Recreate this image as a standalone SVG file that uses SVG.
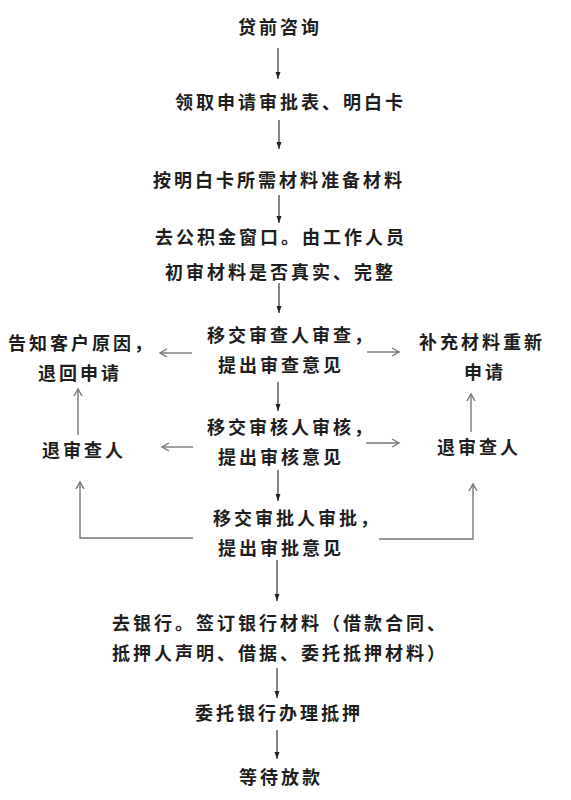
<svg xmlns="http://www.w3.org/2000/svg" width="571" height="800" viewBox="0 0 571 800">
<defs>
<style>
text{font-family:"Noto Sans CJK SC","Noto Sans CJK JP",sans-serif;font-size:18px;font-weight:bold;letter-spacing:3px;fill:#1e1e1e}
.main{fill:none;stroke:#222;stroke-width:1.1}
.side{fill:none;stroke:#777;stroke-width:1.4}
</style>
<marker id="fh" markerUnits="userSpaceOnUse" markerWidth="8" markerHeight="8" refX="7" refY="4" orient="auto">
<path d="M0,1.5 L7,4 L0,6.5 Z" fill="#222"/>
</marker>
<marker id="oh" markerUnits="userSpaceOnUse" markerWidth="12" markerHeight="12" refX="9" refY="6" orient="auto">
<path d="M2,2 L9,6 L2,10" fill="none" stroke="#777" stroke-width="1.4"/>
</marker>
</defs>
<rect width="571" height="800" fill="#fff"/>
<g id="connectors">
<line class="main" x1="278" y1="48" x2="278" y2="79" marker-end="url(#fh)"/>
<line class="main" x1="279" y1="120" x2="279" y2="149" marker-end="url(#fh)"/>
<line class="main" x1="279" y1="195" x2="279" y2="223" marker-end="url(#fh)"/>
<line class="main" x1="279" y1="283" x2="279" y2="313" marker-end="url(#fh)"/>
<line class="main" x1="278" y1="382" x2="278" y2="411" marker-end="url(#fh)"/>
<line class="main" x1="278" y1="470" x2="278" y2="501" marker-end="url(#fh)"/>
<line class="main" x1="277" y1="560" x2="277" y2="601" marker-end="url(#fh)"/>
<line class="main" x1="277" y1="668" x2="277" y2="698" marker-end="url(#fh)"/>
<line class="main" x1="277" y1="730" x2="277" y2="759" marker-end="url(#fh)"/>
<line class="side" x1="192" y1="353" x2="160" y2="353" marker-end="url(#oh)"/>
<line class="side" x1="367" y1="352" x2="399" y2="352" marker-end="url(#oh)"/>
<line class="side" x1="193" y1="447" x2="162" y2="447" marker-end="url(#oh)"/>
<line class="side" x1="366" y1="443" x2="399" y2="443" marker-end="url(#oh)"/>
<line class="side" x1="78" y1="435" x2="78" y2="389" marker-end="url(#oh)"/>
<line class="side" x1="471" y1="432" x2="471" y2="394" marker-end="url(#oh)"/>
<polyline class="side" points="193,538 80,538 80,482" marker-end="url(#oh)"/>
<polyline class="side" points="379,539 473,539 473,484" marker-end="url(#oh)"/>
</g>
<g id="n1"><text x="238" y="34">贷前咨询</text></g>
<g id="n2"><text x="175" y="109">领取申请审批表、明白卡</text></g>
<g id="n3"><text x="153" y="187">按明白卡所需材料准备材料</text></g>
<g id="n4"><text x="155" y="244">去公积金窗口。由工作人员</text><text x="165" y="279">初审材料是否真实、完整</text></g>
<g id="n5"><text x="207" y="342">移交审查人审查，</text><text x="218" y="372">提出审查意见</text></g>
<g id="n6"><text x="8" y="350">告知客户原因，</text><text x="38" y="380">退回申请</text></g>
<g id="n7"><text x="419" y="349">补充材料重新</text><text x="464" y="379">申请</text></g>
<g id="n8"><text x="207" y="434">移交审核人审核，</text><text x="218" y="464">提出审核意见</text></g>
<g id="n9"><text x="42" y="457">退审查人</text></g>
<g id="n10"><text x="437" y="454">退审查人</text></g>
<g id="n11"><text x="213" y="525">移交审批人审批，</text><text x="218" y="555">提出审批意见</text></g>
<g id="n12"><text x="112" y="630">去银行。签订银行材料（借款合同、</text><text x="112" y="660">抵押人声明、借据、委托抵押材料）</text></g>
<g id="n13"><text x="195" y="720">委托银行办理抵押</text></g>
<g id="n14"><text x="239" y="784">等待放款</text></g>
</svg>
